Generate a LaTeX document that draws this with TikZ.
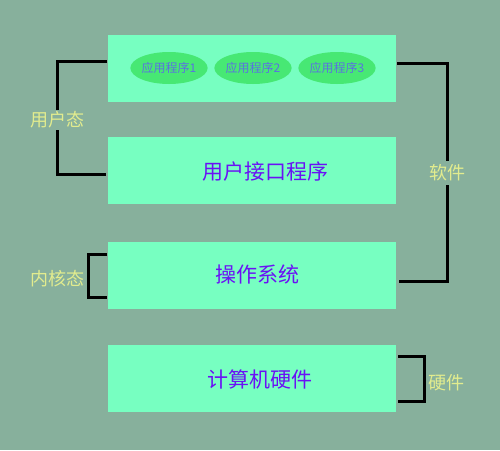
\documentclass[tikz,border=0pt]{standalone}
\usepackage{fontspec}
\setmainfont{Noto Sans CJK SC}
\usetikzlibrary{shapes.geometric}
\definecolor{bg}{HTML}{87B09C}
\definecolor{boxc}{HTML}{77FFC1}
\definecolor{ellc}{HTML}{47E874}
\definecolor{txtc}{HTML}{6A11F5}
\definecolor{etxt}{HTML}{5A72E0}
\definecolor{labc}{HTML}{E2EC8E}
\begin{document}
\begin{tikzpicture}[x=1pt,y=-1pt,
  layer/.style={fill=boxc,draw=none,minimum width=288pt,minimum height=67pt,inner sep=0pt},
  ltext/.style={font=\fontsize{21}{25}\selectfont,text=txtc},
  app/.style={ellipse,fill=ellc,draw=none,minimum width=70pt,minimum height=32pt,inner sep=0pt,
    font=\fontsize{12}{14}\selectfont,text=etxt},
  lab/.style={font=\fontsize{18}{21}\selectfont,text=labc,inner sep=1pt},
  br/.style={line width=3pt,black}]
\fill[bg] (0,0) rectangle (500,450);
\useasboundingbox (0,0) rectangle (500,450);
\node[layer] (b1) at (252,68.5) {};
\node[layer] (b2) at (252,170.5) {};
\node[layer] (b3) at (252,275.5) {};
\node[layer] (b4) at (252,378) {};
\node[ltext] (t2) at (265,172) {用户接口程序};
\node[ltext] (t3) at (257,274) {操作系统};
\node[ltext] (t4) at (260,379) {计算机硬件};
\node[app] (a1) at (169,68) {应用程序1};
\node[app] (a2) at (253,68) {应用程序2};
\node[app] (a3) at (337,68) {应用程序3};
% labels
\node[lab,minimum height=20pt] (ul) at (57,120) {用户态};
\node[lab,minimum height=24pt] (sw) at (447,173) {软件};
\node[lab] (kl) at (57,279) {内核态};
\node[lab] (hw) at (446,383) {硬件};
% user bracket
\coordinate (u1) at (107,61);
\coordinate (u2) at (106,174);
\draw[br] (u1) -| (ul.north);
\draw[br] (ul.south) |- (u2);
% software bracket
\coordinate (s1) at (397,63);
\coordinate (s2) at (399,281);
\draw[br] (s1) -| (sw.north);
\draw[br] (sw.south) |- (s2);
% kernel bracket
\coordinate (k1) at (107,254);
\coordinate (k2) at (88,275);
\coordinate (k3) at (107,297);
\draw[br] (k1) -| (k2) |- (k3);
% hardware bracket
\coordinate (h1) at (398,356);
\coordinate (h2) at (424,378);
\coordinate (h3) at (398,401);
\draw[br] (h1) -| (h2) |- (h3);
\end{tikzpicture}
\end{document}
